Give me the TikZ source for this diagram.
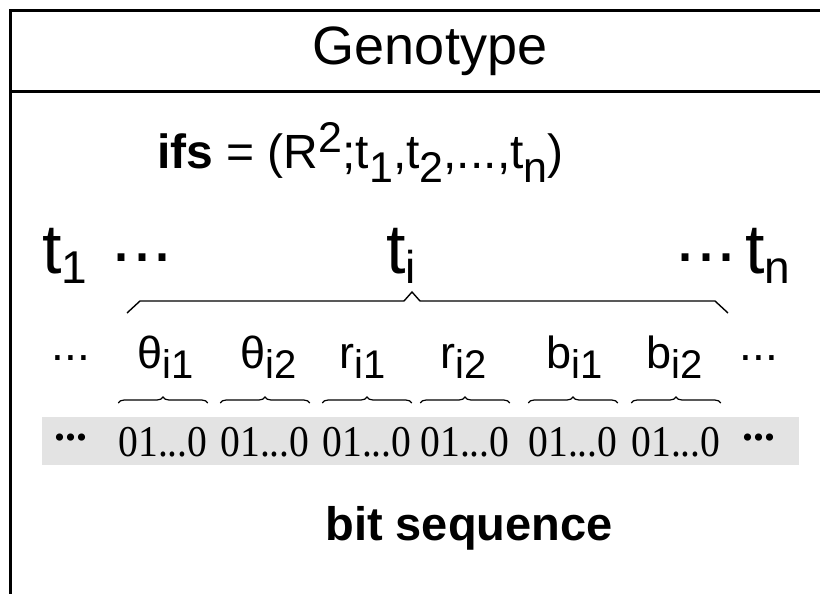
\documentclass[tikz,border=0pt]{standalone}
\usepackage{fontspec}
\usepackage{graphicx}
\setmainfont{Liberation Sans}
\newfontfamily\bitfont{Liberation Serif}
\usetikzlibrary{decorations.pathreplacing, calc, positioning}
\tikzset{
	frame/.style={line width=3pt},
	big/.style={font=\fontsize{70}{70}\selectfont, inner sep=0pt},
	gene/.style={font=\fontsize{45}{45}\selectfont, inner sep=0pt},
	bits/.style={font=\bitfont\fontsize{44}{44}\selectfont, inner sep=0pt},
	dots/.style={font=\fontsize{46}{46}\selectfont, inner sep=0pt},
	bigdots/.style={font=\fontsize{72}{72}\selectfont, inner sep=0pt},
	brc/.style={line width=1.4pt},
	sbrc/.style={decorate, line width=1.2pt, decoration={brace, amplitude=6pt}}
}
% sub- and superscripts as the picture sets them
\newcommand{\fsub}[1]{\raisebox{-14pt}{\fontsize{43}{43}\selectfont #1}}
\newcommand{\fsup}[1]{\raisebox{16pt}{\fontsize{43}{43}\selectfont #1}}
\newcommand{\tsub}[1]{\raisebox{-10pt}{\fontsize{46}{46}\selectfont #1}}
\newcommand{\gsub}[1]{\raisebox{-10pt}{\fontsize{40}{40}\selectfont #1}}
\begin{document}
\begin{tikzpicture}[x=1pt, y=-1pt]
	\useasboundingbox (0,0) rectangle (820,594);
	% frame and header
	\draw[frame] (10,11) rectangle (835,620);
	\draw[frame] (10,92) -- (835,92);
	\node[font=\fontsize{54}{54}\selectfont] (geno) at (430,51) {Genotype};
	\node[anchor=base west, inner sep=0pt, font=\fontsize{48}{48}\selectfont] (ifs) at (157,168)
		{\textbf{ifs} = (R\fsup{2};t\fsub{1},t\fsub{2},...,t\fsub{n})};
	% transformations
	\node[big, anchor=base west] (t1) at (42,273) {t\tsub{1}};
	\node[bigdots] (dl) at (142,258) {...};
	\node[big, anchor=base west] (ti) at (386,273) {t\tsub{i}};
	\node[bigdots] (dr) at (706,258) {...};
	\node[big, anchor=base west] (tn) at (745,273) {t\tsub{n}};
	\coordinate (bl) at (127,313);
	\coordinate (br) at (728,313);
	\coordinate (tip) at (412,292);
	\draw[brc] (bl) -- ++(13,-12) -- ($(tip)+(-8,9)$) -- (tip) -- ($(tip)+(8,9)$) -- ($(br)+(-13,-12)$) -- (br);
	% genes of t_i
	\node[dots] (gl) at (71,358) {...};
	\node[gene, anchor=base west] (th1) at (137,368) {θ\gsub{i1}};
	\node[gene, anchor=base west] (th2) at (240,368) {θ\gsub{i2}};
	\node[gene, anchor=base west] (r1) at (339,368) {r\gsub{i1}};
	\node[gene, anchor=base west] (r2) at (440,368) {r\gsub{i2}};
	\node[gene, anchor=base west] (bb1) at (546,368) {b\gsub{i1}};
	\node[gene, anchor=base west] (bb2) at (646,368) {b\gsub{i2}};
	\node[dots] (gr) at (759,358) {...};
	% bit sequence
	\node[fill=black!11, minimum width=757pt, minimum height=48pt, inner sep=0pt] (band) at (420.5,441) {};
	\node[dots, font=\bitfont\bfseries\fontsize{44}{44}\selectfont] (sl) at (71,438) {...};
	\coordinate (top) at (0,403);
	\foreach \x [count=\i] in {163,265,367,465,573,676} {
		\node[bits] (b\i) at (\x,442) {\scalebox{.9}[1]{01...0}};
		\draw[sbrc] (b\i.west |- top) -- (b\i.east |- top);
	}
	\node[dots, font=\bitfont\bfseries\fontsize{44}{44}\selectfont] (sr) at (759,438) {...};
	\node[anchor=base, font=\bfseries\fontsize{47}{47}\selectfont] (seq) at (469,540) {bit sequence};
\end{tikzpicture}
\end{document}
